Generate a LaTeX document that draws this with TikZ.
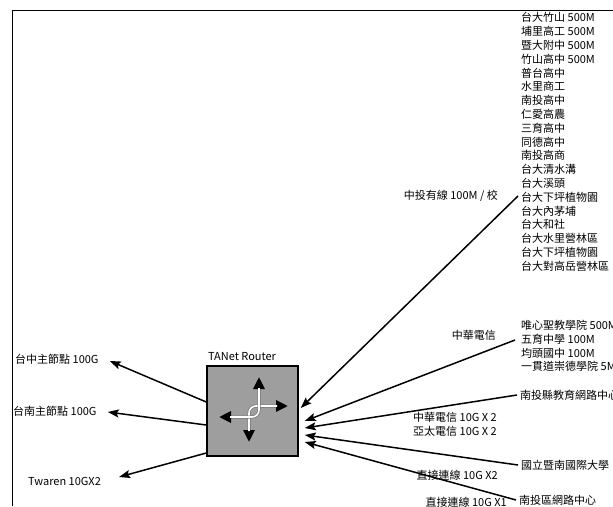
\documentclass[tikz,border=0pt]{standalone}
\usepackage{fontspec}
\setmainfont{Noto Sans CJK TC}
\usetikzlibrary{arrows.meta}

\tikzset{
	lbl/.style={inner sep=0pt, font=\fontsize{11}{13.8}\selectfont},
	lst/.style={lbl, align=left, anchor=north west},
	site/.style={lbl, anchor=west, inner xsep=3pt},
	link/.style={-{Stealth[length=11pt,width=8pt,inset=2pt]}, line width=1.5pt},
	routerbox/.style={draw, line width=1.5pt, fill=black!38, minimum width=91pt, minimum height=90pt, inner sep=0pt},
	turn/.style={rounded corners=7pt, line width=3pt, black!55, {Triangle[length=12pt,width=11pt,color=black]}-{Triangle[length=12pt,width=11pt,color=black]}},
	turncore/.style={rounded corners=7pt, line width=1.6pt, white, shorten <=11pt, shorten >=11pt}
}

\begin{document}
\begin{tikzpicture}[x=1pt, y=-1pt]

	\useasboundingbox (0,0) rectangle (613,506);
	
	\draw[line width=1.5pt] (12.5,506) -- (12.5,10.5) -- (613,10.5);
	
	\node[routerbox] (router) at (252.5,411) {};
	\node[lbl] (routername) at (242,357) {TANet Router};
	
	\begin{scope}[shift={(router.center)}]
		\draw[turn] (35.5,-5) -- (-3.5,-5) -- (-3.5,31);
		\draw[turncore] (35.5,-5) -- (-3.5,-5) -- (-3.5,31);
		\draw[turn] (-33.5,6) -- (6.5,6) -- (6.5,-34);
		\draw[turncore] (-33.5,6) -- (6.5,6) -- (6.5,-34);
	\end{scope}
	
	\node[lbl, anchor=west] (taichung) at (15,359) {台中主節點 100G};
	\node[lbl, anchor=west] (tainan) at (13,411) {台南主節點 100G};
	\node[lbl, anchor=west] (twaren) at (28,481) {Twaren 10GX2};
	
	\node[lst] (schools) at (521,12.5) {台大竹山 500M\\埔里高工 500M\\暨大附中 500M\\竹山高中 500M\\普台高中\\水里商工\\南投高中\\仁愛高農\\三育高中\\同德高中\\南投高商\\台大清水溝\\台大溪頭\\台大下坪植物園\\台大內茅埔\\台大和社\\台大水里營林區\\台大下坪植物園\\台大對高岳營林區};
	\node[lbl, anchor=east] (cable) at (498,196) {中投有線 100M / 校};
	\coordinate (cableend) at (518,196);
	
	\node[lst] (hinet) at (521,320) {唯心聖教學院 500M\\五育中學 100M\\均頭國中 100M\\一貫道崇德學院 5M};
	\node[lbl, anchor=east] (cht) at (496,335) {中華電信};
	\coordinate (chtend) at (515,340);
	
	\node[site] (ntedu) at (517,395) {南投縣教育網路中心};
	\node[lst, align=right, anchor=east] (carriers) at (497,424.5) {中華電信 10G X 2\\亞太電信 10G X 2};
	
	\node[site] (ncnu) at (518,465) {國立暨南國際大學};
	\node[lbl, anchor=east] (directa) at (498,475) {直接連線 10G X2};
	
	\node[site] (ntrc) at (516,500) {南投區網路中心};
	\node[lbl, anchor=east] (directb) at (507,502) {直接連線 10G X1};
	
	\draw[link] ([shift={(0,-9)}]router.west) -- ([shift={(11,2)}]taichung.east);
	\draw[link] ([shift={(0,14)}]router.west) -- ([shift={(11,1)}]tainan.east);
	\draw[link] ([shift={(0,42)}]router.west) -- ([shift={(18,-4)}]twaren.east);
	
	\draw[link] (cableend) -- ([shift={(2,-3)}]router.east);
	\draw[link] (chtend) -- ([shift={(6,10)}]router.east);
	\draw[link] (ntedu.west) -- ([shift={(6,17)}]router.east);
	\draw[link] (ncnu.west) -- ([shift={(6,24)}]router.east);
	\draw[link] (ntrc.west) -- ([shift={(6,31)}]router.east);

\end{tikzpicture}
\end{document}
